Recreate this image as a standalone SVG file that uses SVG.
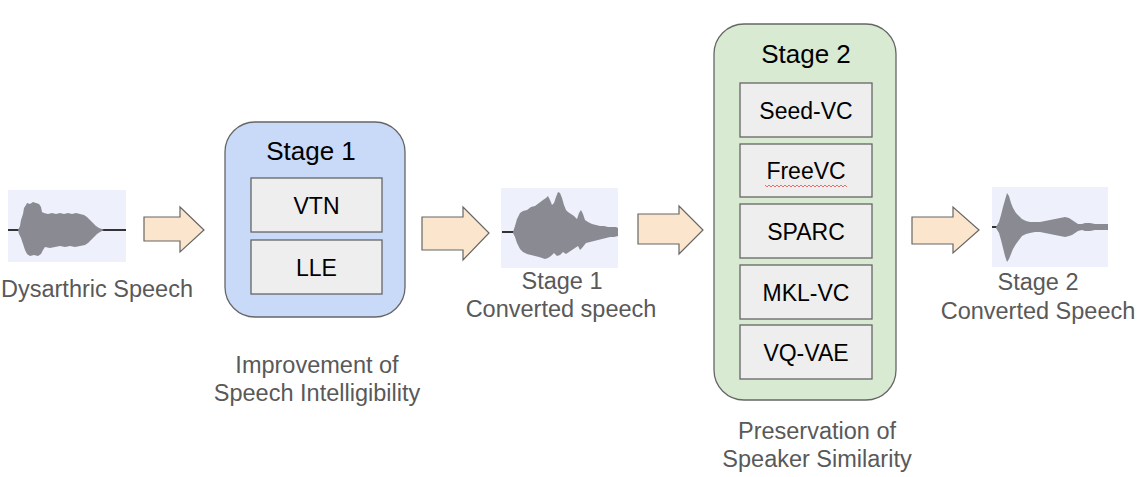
<svg xmlns="http://www.w3.org/2000/svg" width="1138" height="477" viewBox="0 0 1138 477">
<style>
  text { font-family: "Liberation Sans", Arial, sans-serif; }
  .lbl { font-size: 23.5px; fill: #595959; text-anchor: middle; }
  .ttl { font-size: 26px; fill: #000; text-anchor: middle; }
  .in { font-size: 23px; fill: #000; text-anchor: middle; }
  .stage { stroke: #666; stroke-width: 1.3; }
  .box { fill: #eeeeee; stroke: #666; stroke-width: 1.3; }
  .arrow { fill: #fce5cd; stroke: #666; stroke-width: 1.2; stroke-linejoin: miter; }
  .wbg { fill: #eef0fb; }
  .wave { fill: #8a8a92; }
  .wline { stroke: #333; stroke-width: 2; }
</style>
<rect width="1138" height="477" fill="#ffffff"/>

<g id="dysarthric-speech">
  <rect class="wbg" x="8" y="190" width="118" height="72"/>
  <line class="wline" x1="8" y1="230" x2="126" y2="230"/>
  <polygon class="wave" points="18,230 20,226 21,220 23,214 24,208 26,205 27,203 30,204 33,202 36,203 39,204 41,207 42,212 44,213 48,214 52,213 56,214 60,213 64,214 68,213 72,214 76,213 80,214 84,215 87,217 90,220 93,223 96,226 99,228 102,229 104,230 100,232 97,234 94,237 91,240 88,243 85,245 80,246 75,247 70,246 65,247 60,246 55,247 50,248 45,247 43,250 41,254 38,256 34,255 30,256 27,254 25,250 23,244 21,238 19,234"/>
  <text class="lbl" x="97" y="297">Dysarthric Speech</text>
</g>

<g id="stage1">
  <rect class="stage" x="225" y="122" width="180" height="195" rx="30" ry="30" fill="#c9daf8"/>
  <text class="ttl" x="311" y="160">Stage 1</text>
  <g id="vtn">
    <rect class="box" x="251" y="178" width="131" height="54"/>
    <text class="in" x="316.5" y="214">VTN</text>
  </g>
  <g id="lle">
    <rect class="box" x="251" y="240" width="131" height="54"/>
    <text class="in" x="316.5" y="276">LLE</text>
  </g>
  <text class="lbl" x="317" y="373">Improvement of</text>
  <text class="lbl" x="317" y="401">Speech Intelligibility</text>
</g>

<g id="stage1-converted">
  <rect class="wbg" x="501" y="188" width="117" height="80"/>
  <line class="wline" x1="502" y1="232" x2="514" y2="232"/>
  <polygon class="wave" points="513,232 515,226 517,219 520,213 523,211 527,210 531,207 535,206 539,203 543,200 546,198 548,196 550,200 552,205 554,203 556,197 558,192 560,193 562,198 564,205 566,210 568,212 571,214 574,216 577,219 579,213 581,210 583,214 585,220 588,222 592,224 596,225 600,226 604,226 608,227 612,227 616,227 618,228 618,236 614,237 610,237 606,238 602,239 598,240 594,241 590,242 586,243 582,248 580,250 578,246 575,248 572,250 569,252 566,254 563,252 560,255 557,256 554,253 551,256 548,258 545,259 542,258 539,257 535,256 531,255 527,254 523,252 520,249 517,243 515,237 513,233"/>
  <text class="lbl" x="562" y="289">Stage 1</text>
  <text class="lbl" x="561" y="317">Converted speech</text>
</g>

<g id="stage2">
  <rect class="stage" x="714" y="24" width="182" height="376" rx="30" ry="30" fill="#d9ead3"/>
  <text class="ttl" x="806" y="63">Stage 2</text>
  <g id="seed-vc">
    <rect class="box" x="740" y="83" width="132" height="54"/>
    <text class="in" x="806" y="119">Seed-VC</text>
  </g>
  <g id="freevc">
    <rect class="box" x="740" y="144" width="132" height="53"/>
    <text class="in" x="806" y="179">FreeVC</text>
    <polyline points="765,185 767,187 769,185 771,187 773,185 775,187 777,185 779,187 781,185 783,187 785,185 787,187 789,185 791,187 793,185 795,187 797,185 799,187 801,185 803,187 805,185 807,187 809,185 811,187 813,185 815,187 817,185 819,187 821,185 823,187 825,185 827,187 829,185 831,187 833,185 835,187 837,185 839,187 841,185 843,187 845,185 847,187" fill="none" stroke="#e06060" stroke-width="0.9"/>
  </g>
  <g id="sparc">
    <rect class="box" x="740" y="204" width="132" height="54"/>
    <text class="in" x="806" y="240">SPARC</text>
  </g>
  <g id="mkl-vc">
    <rect class="box" x="740" y="265" width="132" height="54"/>
    <text class="in" x="806" y="301">MKL-VC</text>
  </g>
  <g id="vq-vae">
    <rect class="box" x="740" y="325" width="132" height="54"/>
    <text class="in" x="806" y="361">VQ-VAE</text>
  </g>
  <text class="lbl" x="817" y="439">Preservation of</text>
  <text class="lbl" x="817" y="467">Speaker Similarity</text>
</g>

<g id="stage2-converted">
  <rect class="wbg" x="992" y="187" width="116" height="80"/>
  <line class="wline" x1="992" y1="227" x2="997" y2="227"/>
  <polygon class="wave" points="996,227 999,222 1001,215 1003,207 1005,200 1007,193 1009,196 1011,203 1013,208 1016,213 1019,216 1022,219 1026,221 1030,222 1035,222 1040,222 1045,221 1050,220 1055,219 1060,218 1065,217 1069,218 1072,220 1075,222 1078,224 1082,224 1085,223 1090,223 1095,224 1100,224 1104,224 1108,224 1108,230 1104,230 1100,230 1095,230 1090,231 1085,231 1082,230 1078,231 1075,233 1072,235 1069,236 1065,237 1060,236 1055,235 1050,234 1045,233 1040,232 1035,232 1030,233 1026,234 1022,236 1019,240 1016,244 1013,249 1011,254 1009,259 1007,262 1005,256 1003,248 1001,240 999,233 996,228"/>
  <text class="lbl" x="1038" y="290">Stage 2</text>
  <text class="lbl" x="1038" y="319">Converted Speech</text>
</g>

<g id="connectors">
  <polygon class="arrow" points="144,217 180,217 180,207 204,230 180,252 180,241 144,241"/>
  <polygon class="arrow" points="422,217 463,217 463,207 489,233 463,260 463,250 422,250"/>
  <polygon class="arrow" points="638,214 679,214 679,206 703,230 679,254 679,244 638,244"/>
  <polygon class="arrow" points="912,217 953,217 953,207 979,230 953,253 953,244 912,244"/>
</g>
</svg>
